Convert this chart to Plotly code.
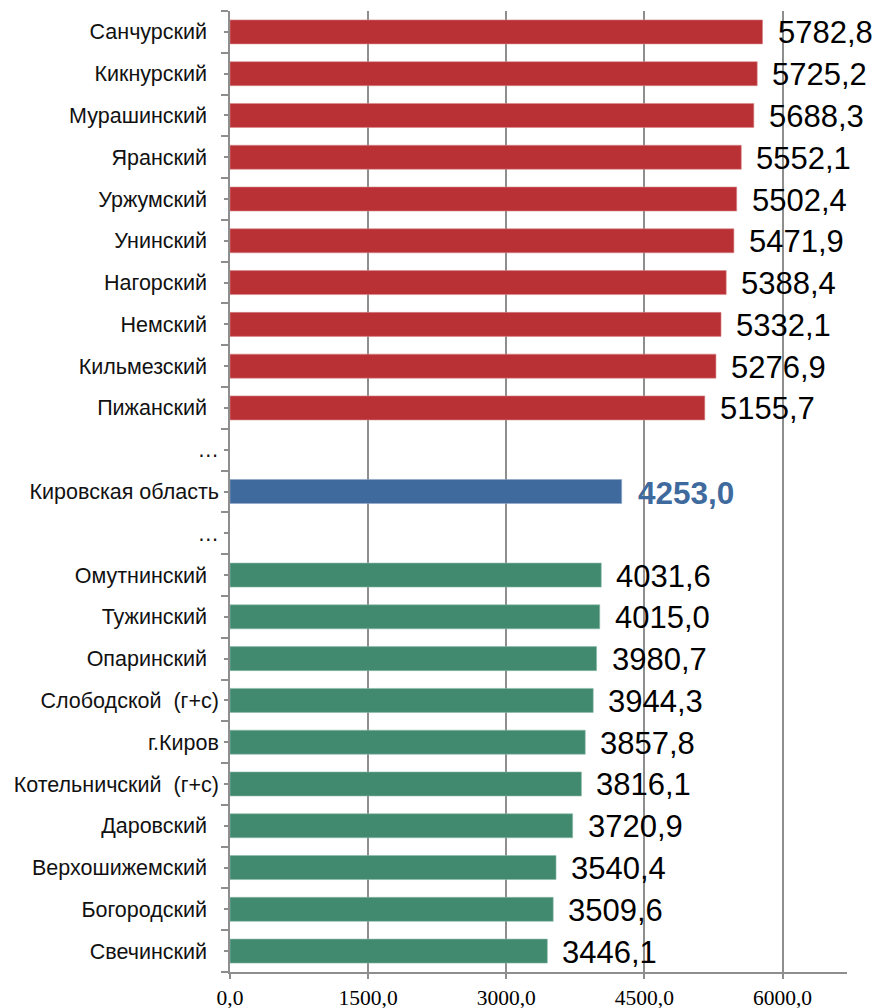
import plotly.graph_objects as go

# districts with the highest values
top_names = ['Санчурский', 'Кикнурский', 'Мурашинский', 'Яранский', 'Уржумский',
             'Унинский', 'Нагорский', 'Немский', 'Кильмезский', 'Пижанский']
top_values = [5782.8, 5725.2, 5688.3, 5552.1, 5502.4, 5471.9, 5388.4, 5332.1, 5276.9, 5155.7]

# region average
region_name = 'Кировская область'
region_value = 4253.0

# districts with the lowest values
low_names = ['Омутнинский', 'Тужинский', 'Опаринский', 'Слободской  (г+с)', 'г.Киров',
             'Котельничский  (г+с)', 'Даровский', 'Верхошижемский', 'Богородский', 'Свечинский']
low_values = [4031.6, 4015.0, 3980.7, 3944.3, 3857.8, 3816.1, 3720.9, 3540.4, 3509.6, 3446.1]

gap_label = '…'
x_ticks = [0, 1500, 3000, 4500, 6000]

# labels that sit flush against the axis (the rest carry trailing spaces in the source)
flush = {region_name, gap_label, 'Слободской  (г+с)', 'г.Киров', 'Котельничский  (г+с)'}

names = top_names + [gap_label, region_name, gap_label] + low_names
rows = list(range(len(names)))
top_rows = rows[:len(top_names)]
region_row = len(top_names) + 1
low_rows = rows[len(top_names) + 3:]


def fmt(v):
    return f'{v:.1f}'.replace('.', ',')


def tick_text(n):
    padded = n.replace(' ', '\u00a0')
    return padded if n in flush else padded + '\u00a0\u00a0'


RED = '#B93135'
BLUE = '#3F6A9D'
GREEN = '#418A6F'
GRID = '#8E8E8E'

fig = go.Figure()

fig.add_trace(go.Bar(x=top_values, y=top_rows, orientation='h', width=0.575,
                     marker=dict(color=RED, line=dict(color='#D98A8C', width=0.6)),
                     hoverinfo='x+y'))
fig.add_trace(go.Bar(x=[region_value], y=[region_row], orientation='h', width=0.575,
                     marker=dict(color=BLUE, line=dict(color='#8DA6C6', width=0.6)),
                     hoverinfo='x+y'))
fig.add_trace(go.Bar(x=low_values, y=low_rows, orientation='h', width=0.575,
                     marker=dict(color=GREEN, line=dict(color='#8DBBA9', width=0.6)),
                     hoverinfo='x+y'))

annotations = []
for r, v in zip(top_rows + low_rows, top_values + low_values):
    annotations.append(dict(x=v, y=r, text=fmt(v), xanchor='left', yanchor='middle',
                            xshift=13, yshift=-1, showarrow=False,
                            font=dict(family='Liberation Sans, Arial', size=31, color='#000000')))
annotations.append(dict(x=region_value, y=region_row, text='<b>' + fmt(region_value) + '</b>',
                        xanchor='left', yanchor='middle', xshift=14, yshift=-1, showarrow=False,
                        font=dict(family='Liberation Sans, Arial', size=31.5, color=BLUE)))

# the page body adds 8px around the figure, so the margins are shifted to compensate
fig.update_layout(
    width=880, height=1008,
    margin=dict(l=222, r=41, t=3, b=44),
    paper_bgcolor='white', plot_bgcolor='white',
    showlegend=False,
    barmode='overlay',
    annotations=annotations,
)

fig.update_xaxes(
    range=[0, 6700], automargin=False,
    tickmode='array', tickvals=x_ticks, ticktext=[fmt(t) for t in x_ticks],
    ticks='outside', ticklen=5, tickwidth=1.5, tickcolor=GRID,
    showline=True, linecolor=GRID, linewidth=1.5,
    showgrid=True, gridcolor=GRID, gridwidth=1.5,
    zeroline=False,
    tickfont=dict(family='Liberation Serif, Times New Roman', size=21.5, color='#000000'),
)

fig.update_yaxes(
    range=[len(names) - 0.5, -0.5], automargin=False,
    tickmode='array', tickvals=rows, ticktext=[tick_text(n) for n in names],
    ticks='outside', ticklen=4, tickwidth=1.5, tickcolor=GRID,
    ticklabelstandoff=1,
    minor=dict(tickmode='linear', tick0=0.5, dtick=1, ticks='outside', ticklen=7,
               tickwidth=1.5, tickcolor=GRID, showgrid=False),
    showline=True, linecolor=GRID, linewidth=1.5,
    showgrid=False, zeroline=False,
    tickfont=dict(family='Liberation Sans, Arial', size=21.5, color='#111111'),
)

fig.write_html('out.html')
